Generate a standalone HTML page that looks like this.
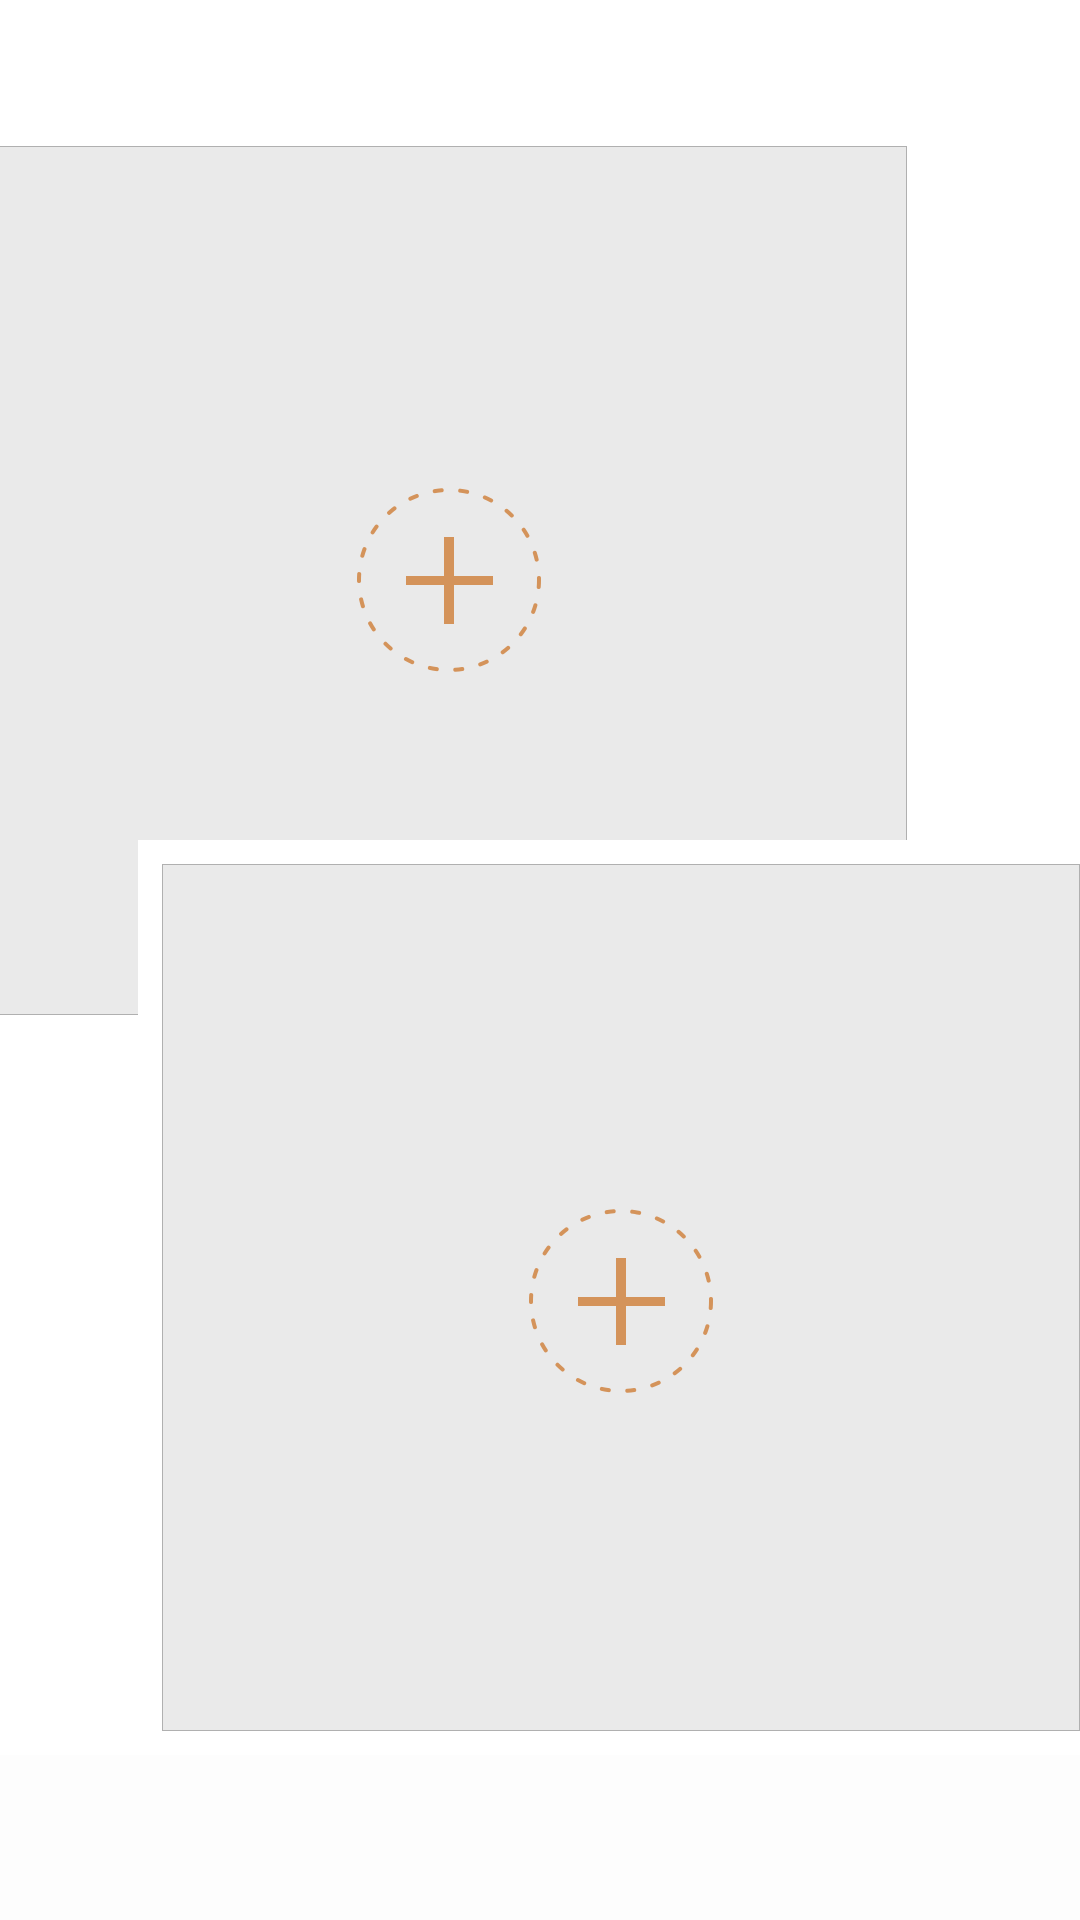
<!DOCTYPE html>
<html><head><meta charset="utf-8"><style>
html,body{margin:0;padding:0;width:1080px;height:1920px;background:#fff;overflow:hidden;font-family:"Liberation Sans",sans-serif}
.panel{position:absolute;background:#eaeaea;border:1px solid #b0b0b0;box-sizing:border-box}
#p1{left:-2px;top:146px;width:909px;height:869px}
#w2{position:absolute;left:138px;top:840px;width:960px;height:915px;background:#fff}
#p2{left:162px;top:864px;width:918px;height:867px}
#bot{position:absolute;left:0;top:1755px;width:1080px;height:165px;background:#fdfdfd}
svg{position:absolute;left:0;top:0}
</style></head><body>
<div id="bot"></div>
<div id="p1" class="panel"></div>
<div id="w2"></div>
<div id="p2" class="panel"></div>
<svg width="1080" height="1920">
<g>
<circle cx="449" cy="580" r="90" fill="none" stroke="#d4935a" stroke-width="4" stroke-dasharray="7 18.6" stroke-linecap="round"/>
<rect x="444" y="537" width="10" height="87" fill="#d4935a"/>
<rect x="406" y="576" width="87" height="9" fill="#d4935a"/>
</g>
<g>
<circle cx="621" cy="1301" r="90" fill="none" stroke="#d4935a" stroke-width="4" stroke-dasharray="7 18.6" stroke-linecap="round"/>
<rect x="616" y="1258" width="10" height="87" fill="#d4935a"/>
<rect x="578" y="1297" width="87" height="9" fill="#d4935a"/>
</g>
</svg>
</body></html>
